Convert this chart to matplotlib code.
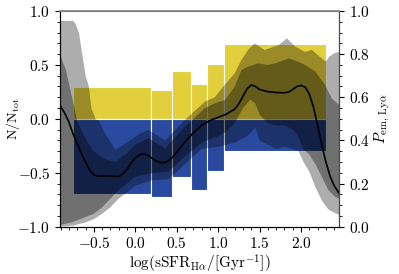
import numpy as np
import matplotlib
matplotlib.use("Agg")
import matplotlib.pyplot as plt
from matplotlib.ticker import MultipleLocator

plt.rcParams['font.family'] = 'serif'
plt.rcParams['font.serif'] = ['cmr10', 'DejaVu Serif']
plt.rcParams['mathtext.fontset'] = 'cm'
plt.rcParams['axes.formatter.use_mathtext'] = True
plt.rcParams['font.size'] = 11

# histogram bins in log(sSFR) and fractions of emitters / non-emitters
bin_edges = [-0.75, 0.185, 0.446, 0.667, 0.864, 1.07, 2.30]
frac_emit = [0.298, 0.267, 0.447, 0.323, 0.509, 0.69]
frac_non = [0.697, 0.727, 0.542, 0.66, 0.48, 0.30]

# emission probability curve (right axis)
line_x = [-0.91, -0.85, -0.8, -0.75, -0.7, -0.65, -0.6, -0.55, -0.5, -0.45, -0.3, -0.2,
          -0.15, -0.1, -0.05, 0.0, 0.05, 0.1, 0.15, 0.2, 0.25, 0.3, 0.35, 0.4, 0.45, 0.5,
          0.6, 0.7, 0.8, 0.9, 1.0, 1.1, 1.2, 1.25, 1.3, 1.35, 1.4, 1.45, 1.5, 1.6, 1.7,
          1.8, 1.85, 1.9, 1.95, 2.0, 2.05, 2.1, 2.15, 2.2, 2.25, 2.3, 2.35, 2.4, 2.46]
line_p = [0.565, 0.525, 0.485, 0.43, 0.385, 0.34, 0.30, 0.262, 0.24, 0.235, 0.235, 0.233,
          0.245, 0.265, 0.295, 0.318, 0.333, 0.338, 0.332, 0.318, 0.305, 0.298, 0.297, 0.305, 0.322, 0.345,
          0.394, 0.435, 0.47, 0.492, 0.507, 0.522, 0.545, 0.57, 0.605, 0.64, 0.657, 0.65, 0.636, 0.626, 0.622,
          0.621, 0.624, 0.636, 0.65, 0.655, 0.647, 0.615, 0.555, 0.47, 0.38, 0.30, 0.235, 0.19, 0.155]

# outer band
out_hi_x = [-0.91, -0.75, -0.72, -0.68, -0.64, -0.6, -0.56, -0.53, -0.48, -0.44, -0.36, -0.24,
            -0.1, 0.06, 0.16, 0.36, 0.6, 0.84, 0.96, 1.06, 1.2, 1.28, 1.36, 1.44, 1.48, 1.56,
            1.64, 1.73, 1.83, 1.93, 2.05, 2.13, 2.2, 2.3, 2.34, 2.4, 2.46]
out_hi = [0.954, 0.954, 0.94, 0.90, 0.80, 0.70, 0.65, 0.55, 0.50, 0.49, 0.43, 0.356,
          0.39, 0.433, 0.448, 0.40, 0.495, 0.58, 0.60, 0.649, 0.711, 0.773, 0.819, 0.85, 0.84, 0.819,
          0.83, 0.842, 0.873, 0.835, 0.81, 0.82, 0.796, 0.765, 0.788, 0.804, 0.81]
out_lo_x = [-0.91, -0.75, -0.6, -0.5, -0.4, -0.3, -0.2, -0.1, 0.0, 0.2, 0.4, 0.6, 0.8, 1.0,
            1.2, 1.35, 1.45, 1.5, 1.6, 1.7, 1.8, 1.9, 1.97, 2.03, 2.1, 2.18, 2.26, 2.33, 2.4, 2.46]
out_lo = [0.0, 0.005, 0.02, 0.035, 0.06, 0.09, 0.13, 0.16, 0.19, 0.215, 0.22, 0.29, 0.36, 0.37,
          0.39, 0.42, 0.46, 0.40, 0.38, 0.36, 0.37, 0.36, 0.35, 0.30, 0.255, 0.178, 0.116, 0.08, 0.065, 0.055]

# inner band
in_hi_x = [-0.91, -0.84, -0.78, -0.74, -0.7, -0.66, -0.58, -0.5, -0.42, -0.34, -0.24, -0.1,
           0.0, 0.16, 0.36, 0.6, 0.84, 0.96, 1.08, 1.2, 1.28, 1.36, 1.48, 1.6, 1.69, 1.85,
           1.93, 2.05, 2.17, 2.29, 2.37, 2.46]
in_hi = [0.80, 0.73, 0.63, 0.56, 0.49, 0.456, 0.394, 0.35, 0.325, 0.31, 0.30, 0.34,
         0.38, 0.41, 0.363, 0.464, 0.55, 0.572, 0.587, 0.649, 0.726, 0.742, 0.757, 0.75, 0.757, 0.78,
         0.77, 0.75, 0.72, 0.657, 0.595, 0.564]
in_lo_x = [-0.91, -0.75, -0.6, -0.5, -0.4, -0.3, -0.2, -0.1, 0.0, 0.2, 0.4, 0.6, 0.8, 1.0,
           1.1, 1.2, 1.3, 1.39, 1.45, 1.5, 1.6, 1.7, 1.8, 1.9, 1.95, 2.03, 2.1, 2.18, 2.26,
           2.33, 2.41, 2.46]
in_lo = [0.008, 0.022, 0.045, 0.06, 0.09, 0.13, 0.17, 0.20, 0.232, 0.248, 0.255, 0.325, 0.39, 0.42,
         0.44, 0.48, 0.55, 0.59, 0.57, 0.52, 0.48, 0.47, 0.47, 0.45, 0.43, 0.36, 0.335, 0.286, 0.224,
         0.17, 0.139, 0.13]

fig = plt.figure(figsize=(3.99, 2.74), dpi=100)
ax = fig.add_axes([0.15, 0.1726, 0.70, 0.7873])

edges = np.array(bin_edges)
widths = np.diff(edges)
ax.bar(edges[:-1], frac_emit, widths, align='edge', color='#e3ce3b', edgecolor='w', linewidth=0.8)
ax.bar(edges[:-1], -np.array(frac_non), widths, align='edge', color='#2a4a9f', edgecolor='w', linewidth=0.8)

ax.set_xlim(-0.91, 2.46)
ax.set_ylim(-1, 1)
ax.xaxis.set_major_locator(MultipleLocator(0.5))
ax.xaxis.set_minor_locator(MultipleLocator(0.1))
ax.yaxis.set_major_locator(MultipleLocator(0.5))
ax.yaxis.set_minor_locator(MultipleLocator(0.1))
ax.set_xlabel(r'$\log(\mathrm{sSFR_{H\alpha}/[Gyr^{-1}]})$', labelpad=1)
ax.set_ylabel(r'$\mathrm{N/N_{tot}}$', fontsize=10)
ax.yaxis.set_label_coords(-0.135, 0.5)

ax2 = ax.twinx()
ax2.fill(np.concatenate([out_hi_x, out_lo_x[::-1]]), np.concatenate([out_hi, out_lo[::-1]]),
         color='k', alpha=0.32, lw=0)
ax2.fill(np.concatenate([in_hi_x, in_lo_x[::-1]]), np.concatenate([in_hi, in_lo[::-1]]),
         color='k', alpha=0.35, lw=0)
ax2.plot(line_x, line_p, color='k', lw=1.2)
ax2.set_ylim(0, 1)
ax2.yaxis.set_major_locator(MultipleLocator(0.2))
ax2.yaxis.set_minor_locator(MultipleLocator(0.05))
ax2.set_ylabel(r'$P_{\rm em,\,Ly\alpha}$', labelpad=2)
ax2.spines['top'].set_color('0.55')
ax2.spines['top'].set_linewidth(1.3)
ax2.spines['right'].set_color('0.3')

fig.savefig('out.png', dpi=100)
